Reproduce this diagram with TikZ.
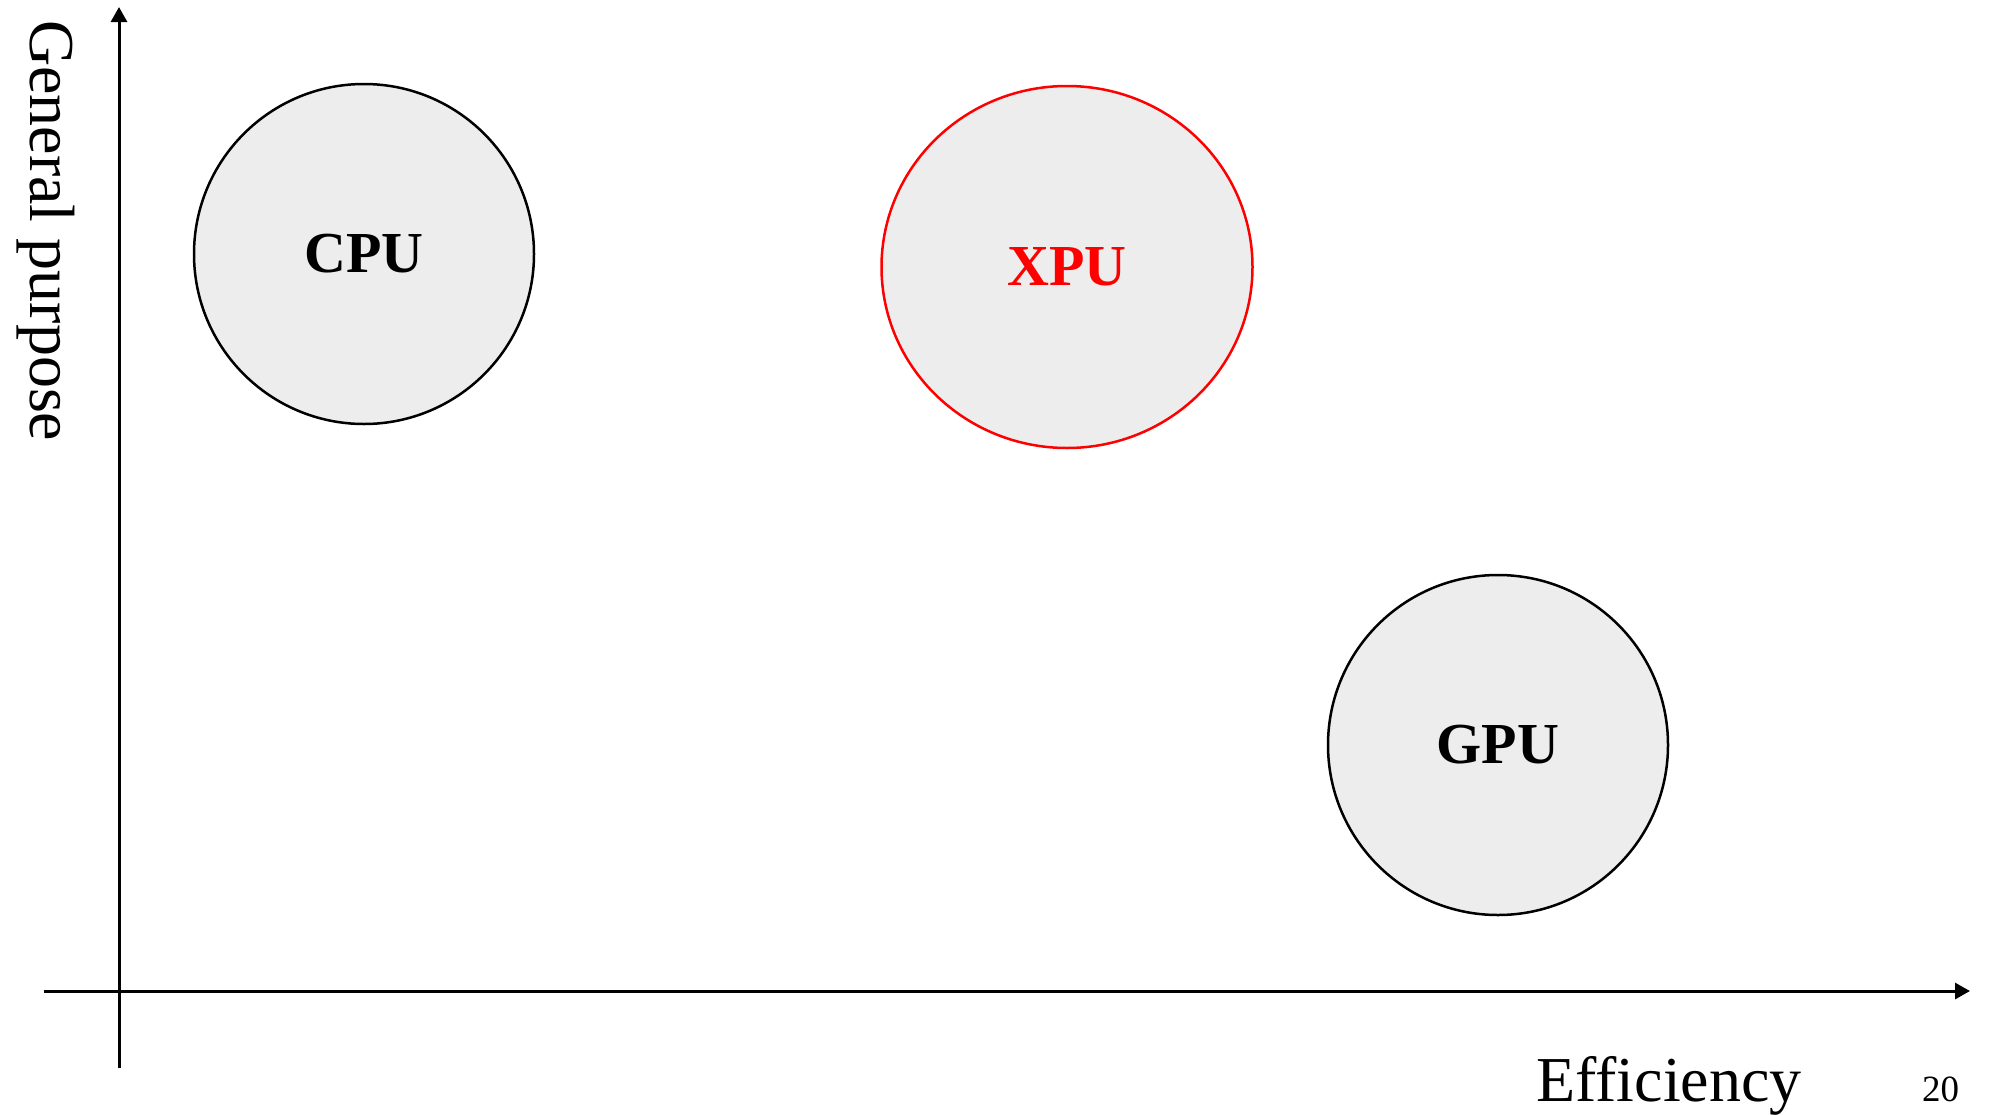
\documentclass[tikz,border=0pt]{standalone}
\usepackage{fontspec}
\setmainfont{Liberation Serif}
\usetikzlibrary{arrows.meta,shapes.geometric}
\definecolor{chipfill}{HTML}{EDEDED}
\tikzset{
  axis/.style={line width=3pt, -{Triangle[length=15pt,width=16pt]}},
  chip/.style={circle, draw=black, line width=2.5pt, fill=chipfill, minimum size=340pt, inner sep=0pt,
    font=\bfseries\fontsize{58}{64}\selectfont},
  axislabel/.style={inner sep=0pt, font=\fontsize{64}{70}\selectfont},
}
\begin{document}
\begin{tikzpicture}[x=1pt, y=-1pt]
  \useasboundingbox (0,0) rectangle (1989,1114);
  % axes
  \coordinate (yb) at (119,1068);
  \coordinate (yt) at (119,7);
  \coordinate (xl) at (44,991);
  \coordinate (xr) at (1970,991);
  \draw[axis] (yb) -- (yt);
  \draw[axis] (xl) -- (xr);
  % processors
  \node[chip] (cpu) at (364,254) {CPU};
  \node[chip, ellipse, draw=red, text=red, minimum width=371pt, minimum height=362pt] (xpu) at (1067,267) {XPU};
  \node[chip] (gpu) at (1498,745) {GPU};
  % axis labels
  \node[axislabel, rotate=-90, anchor=base west] (ylab) at (30,20) {General purpose};
  \node[axislabel, anchor=base west] (xlab) at (1536,1101) {Efficiency};
  \node[inner sep=0pt, anchor=base west, font=\fontsize{37}{40}\selectfont] (page) at (1922,1101) {20};
\end{tikzpicture}
\end{document}
